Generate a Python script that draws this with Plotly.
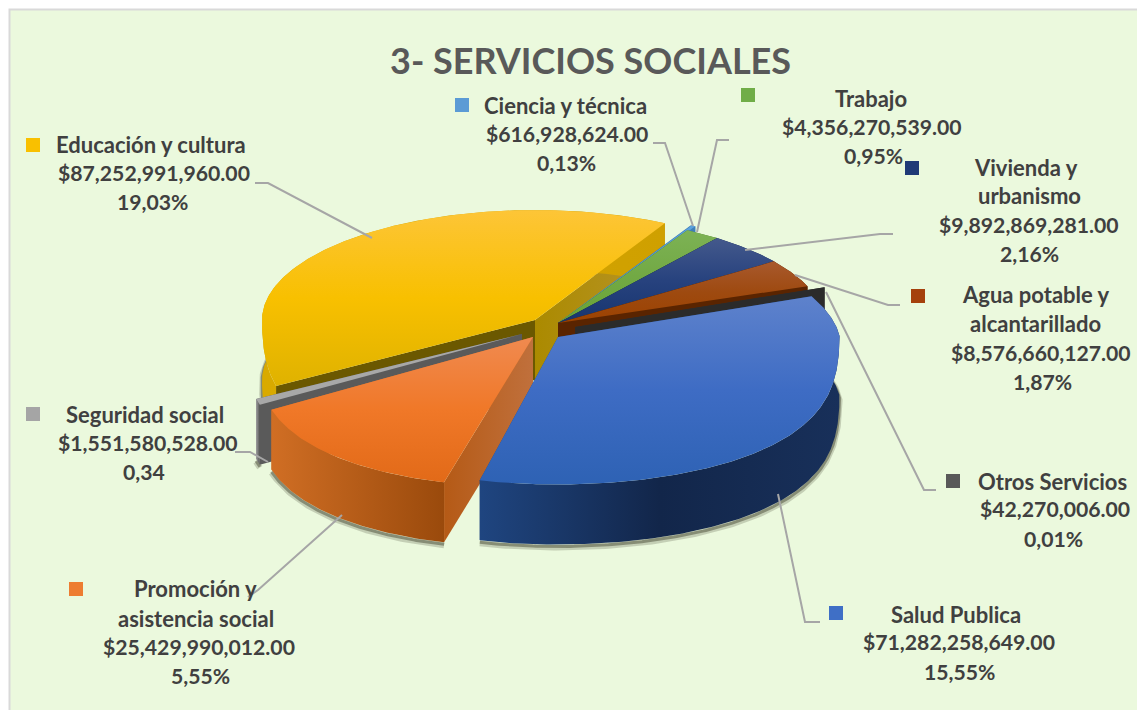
import numpy as np
import plotly.graph_objects as go

# ---------- data ----------
categories = ["Ciencia y técnica", "Trabajo", "Vivienda y urbanismo", "Agua potable y alcantarillado",
              "Otros Servicios", "Salud Publica", "Promoción y asistencia social",
              "Seguridad social", "Educación y cultura"]
amounts = [616928624.00, 4356270539.00, 9892869281.00, 8576660127.00, 42270006.00,
           71282258649.00, 25429990012.00, 1551580528.00, 87252991960.00]
percents = ["0,13%", "0,95%", "2,16%", "1,87%", "0,01%", "15,55%", "5,55%", "0,34", "19,03%"]
title_text = "3- SERVICIOS SOCIALES"

# ---------- view ----------
W, H = 1137, 710
START = 28.4
RX, RY, DEPTH = 273, 110, 60

# style per category: arc centre, apex, top colours, outer wall colours, cut wall (start, end) colours
STYLE = {
    "Educación y cultura": dict(c=(535, 320), a=(535, 320), top=["#fdc537", "#f8c000", "#dfb200"],
                                wall=["#d9aa00", "#cfa000"], cs=["#6b5800", "#6b5800"], ce=["#ab8a00", "#b8952a"], key="#f9c000"),
    "Ciencia y técnica": dict(c=(561, 322), a=(558, 323), top=["#5ba3e0", "#4f97d6", "#4f97d6"],
                              wall=["#3f7fb8", "#3f7fb8"], cs=["#3f7fb8", "#3f7fb8"], ce=["#3f7fb8", "#3f7fb8"], key="#5b9bd5"),
    "Trabajo": dict(c=(553, 326), a=(558, 323), top=["#7db255", "#72a944", "#6aa436"],
                    wall=["#4a7a28", "#4a7a28"], cs=["#3f6f20", "#3f6f20"], ce=["#3f6f20", "#3f6f20"], key="#70ad47"),
    "Vivienda y urbanismo": dict(c=(553, 326), a=(558, 323), top=["#44598c", "#27427e", "#17356f"],
                                 wall=["#14295a", "#14295a"], cs=["#0e2148", "#0e2148"], ce=["#0e2148", "#0e2148"], key="#1f3a76"),
    "Agua potable y alcantarillado": dict(c=(553, 326), a=(558, 323), top=["#a8592d", "#9e4a10", "#9c4200"],
                                          wall=["#5a2400", "#5a2400"], cs=["#5a2400", "#5a2400"], ce=["#5a2400", "#5a2400"], key="#a5410c"),
    "Otros Servicios": dict(c=(570, 327), a=(575, 327), top=["#333333", "#333333", "#333333"],
                            wall=["#2b2b2b", "#2b2b2b"], cs=["#2b2b2b", "#2b2b2b"], ce=["#2b2b2b", "#2b2b2b"], key="#595959"),
    "Seguridad social": dict(c=(515, 333), a=(522, 334), top=["#a8a8a8", "#a8a8a8", "#a8a8a8"],
                             wall=["#a0a0a0", "#555555"], cs=["#5a5a5a", "#5a5a5a"], ce=["#5a5a5a", "#5a5a5a"], key="#a5a5a5"),
    "Promoción y asistencia social": dict(c=(519, 338), a=(533, 337), k=0.97, top=["#f08a50", "#f07828", "#e26a18"],
                                          wall=["#d06e24", "#9a4a0c"], cs=["#b55a16", "#c0703c"], ce=["#d06e24", "#d06e24"], key="#ed7d31"),
    "Salud Publica": dict(c=(557, 336), a=(558, 337), top=["#5e82cc", "#3e6cc4", "#2e62b4"],
                          wall=["#1f4580", "#12264a", "#18305a"], cs=["#1f4580", "#1f4580"], ce=["#1f4580", "#1f4580"], key="#3f6fc6"),
}
DRAW_ORDER = ["Educación y cultura", "Ciencia y técnica", "Trabajo", "Vivienda y urbanismo",
              "Agua potable y alcantarillado", "Otros Servicios", "Seguridad social",
              "Promoción y asistencia social", "Salud Publica"]

LABELS = {
    "Educación y cultura": [("Educación y cultura", 151, 144), ("$87,252,991,960.00", 154, 173), ("19,03%", 152, 202)],
    "Ciencia y técnica": [("Ciencia y técnica", 565, 105), ("$616,928,624.00", 567, 134), ("0,13%", 566, 163)],
    "Trabajo": [("Trabajo", 871, 98), ("$4,356,270,539.00", 872, 127), ("0,95%", 873, 156)],
    "Vivienda y urbanismo": [("Vivienda y", 1026, 167), ("urbanismo", 1029, 195), ("$9,892,869,281.00", 1029, 225), ("2,16%", 1029, 254)],
    "Agua potable y alcantarillado": [("Agua potable y", 1036, 294), ("alcantarillado", 1035, 323), ("$8,576,660,127.00", 1041, 353), ("1,87%", 1042, 382)],
    "Otros Servicios": [("Otros Servicios", 1052, 481), ("$42,270,006.00", 1055, 509), ("0,01%", 1053, 539)],
    "Salud Publica": [("Salud Publica", 956, 614), ("$71,282,258,649.00", 959, 642), ("15,55%", 959, 672)],
    "Promoción y asistencia social": [("Promoción y", 195, 588), ("asistencia social", 196, 618), ("$25,429,990,012.00", 199, 647), ("5,55%", 200, 676)],
    "Seguridad social": [("Seguridad social", 145, 414), ("$1,551,580,528.00", 148, 443), ("0,34", 144, 472)],
}
KEYS = {
    "Educación y cultura": (33, 145), "Ciencia y técnica": (462, 105), "Trabajo": (748, 95),
    "Vivienda y urbanismo": (912, 168), "Agua potable y alcantarillado": (918, 296),
    "Seguridad social": (33, 414), "Otros Servicios": (953, 481), "Salud Publica": (836, 613),
    "Promoción y asistencia social": (76, 589),
}
LEADERS = [
    [(255, 183), (268, 183), (372, 238)],
    [(653, 143), (665, 143), (693, 226)],
    [(729, 140), (717, 140), (697, 232)],
    [(893, 234), (880, 234), (745, 250)],
    [(900, 305), (888, 305), (795, 275)],
    [(936, 490), (924, 490), (826, 292)],
    [(820, 622), (805, 622), (778, 494)],
    [(248, 597), (258, 590), (342, 515)],
    [(235, 452), (250, 452), (268, 462)],
]


def project(center, theta_deg, k=1.0):
    t = np.radians(theta_deg)
    s, c = np.sin(t), np.cos(t)
    back = np.minimum(c, 0)
    fx = 1 + 0.42 * back ** 2
    # the right-hand rim bulges a little toward the viewer
    fx = fx + np.where(s > 0, 0.035 * np.clip((0.36 - c) / 0.36, 0, 1), 0)
    fy = 1 + 0.35 * np.abs(back) ** 1.5
    return center[0] + k * RX * s * fx, center[1] - RY * c * fy


def scale_of(cols):
    n = len(cols) - 1
    return [[i / n, col] for i, col in enumerate(cols)]


fig = go.Figure()


def poly(xs, ys, cols, kind):
    fig.add_trace(go.Scatter(
        x=list(xs), y=list(ys), mode="lines", fill="toself", line=dict(width=0),
        fillgradient=dict(type=kind, colorscale=scale_of(cols[::-1] if kind == "vertical" else cols)),
        hoverinfo="skip", showlegend=False))


total = sum(amounts)
angles = {}
cursor = START
for name, amount in zip(categories, amounts):
    sweep = amount / total * 360
    angles[name] = (cursor, cursor + sweep)
    cursor += sweep

for name in DRAW_ORDER:
    st = STYLE[name]
    t0, t1 = angles[name]
    ths = np.linspace(t0, t1, max(6, int((t1 - t0) * 2)))
    x, y = project(st["c"], ths, st.get("k", 1.0))
    ax, ay = st["a"]

    # soft shadow beneath the outer wall
    for width, alpha, dy in ((6, 0.22, 3), (3, 0.45, 2)):
        fig.add_trace(go.Scatter(x=list(x), y=list(y + DEPTH + dy), mode="lines",
                                 line=dict(color=f"rgba(60,60,40,{alpha})", width=width),
                                 hoverinfo="skip", showlegend=False))
    # cut walls
    for px, py, cols in ((x[-1], y[-1], st["ce"]), (x[0], y[0], st["cs"])):
        poly([ax, px, px, ax, ax], [ay, py, py + DEPTH, ay + DEPTH, ay], cols, "horizontal")
    # outer wall
    poly(np.r_[x, x[::-1], x[0]], np.r_[y, y[::-1] + DEPTH, y[0]], st["wall"], "horizontal")
    # top face
    poly(np.r_[ax, x, ax], np.r_[ay, y, ay], st["top"], "vertical")

for pts in LEADERS:
    fig.add_trace(go.Scatter(x=[p[0] for p in pts], y=[p[1] for p in pts], mode="lines",
                             line=dict(color="#a6a6a6", width=2), hoverinfo="skip", showlegend=False))

for name, (kx, ky) in KEYS.items():
    fig.add_trace(go.Scatter(x=[kx], y=[ky], mode="markers",
                             marker=dict(symbol="square", size=14, color=STYLE[name]["key"]),
                             hoverinfo="skip", showlegend=False))

annotations = [dict(x=590, y=60, text=f"<b>{title_text}</b>", showarrow=False,
                    font=dict(family="Lato", size=36, color="#595959"), xanchor="center", yanchor="middle")]
for name, pct in zip(categories, percents):
    for text, lx, ly in LABELS[name]:
        numeric = text[0] == "$" or text[0].isdigit()
        annotations.append(dict(x=lx, y=ly, text=f"<b>{text}</b>", showarrow=False,
                                font=dict(family="Lato", size=21.2 if numeric else 22, color="#404040"),
                                xanchor="center", yanchor="middle"))

fig.update_layout(
    width=W, height=H, margin=dict(l=0, r=0, t=0, b=0),
    paper_bgcolor="#ffffff", plot_bgcolor="#ffffff",
    xaxis=dict(range=[0, W], visible=False, fixedrange=True),
    yaxis=dict(range=[H, 0], visible=False, fixedrange=True),
    annotations=annotations,
    shapes=[dict(type="rect", x0=9.5, y0=9.5, x1=W + 10, y1=H + 10, layer="below",
                 fillcolor="#ebf9dd", line=dict(color="#d9d9d9", width=2))],
)
fig.write_html("out.html", config={"displayModeBar": False},
               post_script="document.body.style.margin='0';document.body.style.overflow='hidden';")
